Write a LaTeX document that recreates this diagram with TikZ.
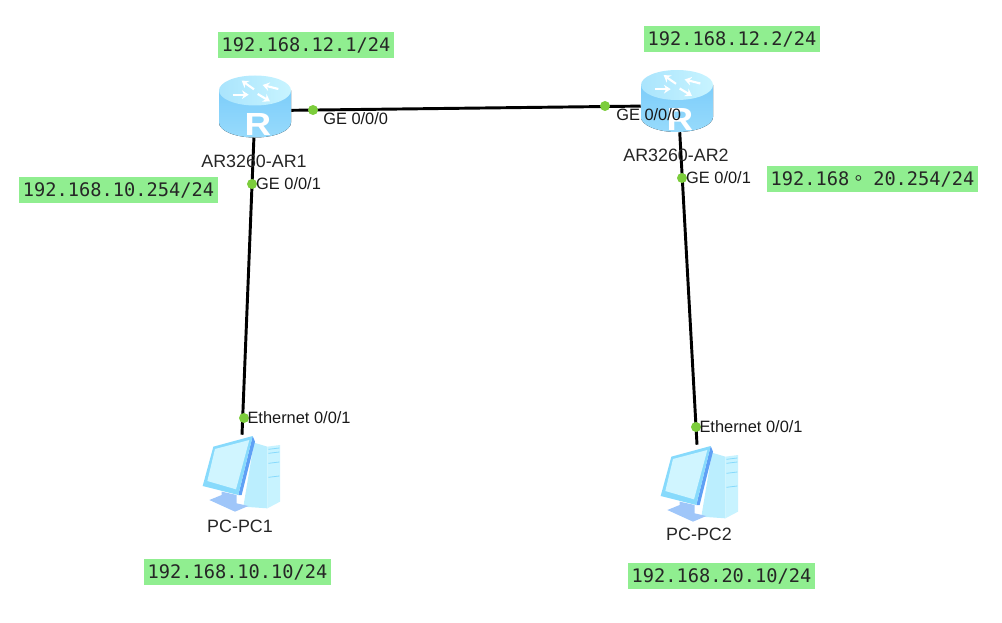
\documentclass[tikz,border=0pt]{standalone}
\usepackage{fontspec}
\setmainfont{Liberation Sans}
\newfontfamily\ipfont{DejaVu Sans Mono}
\newfontfamily\cjkfont{Noto Sans CJK TC}
\usetikzlibrary{arrows.meta,positioning}
\definecolor{IPgreen}{RGB}{144,238,144}
\definecolor{PORTgreen}{RGB}{124,205,60}
\definecolor{RTlight}{RGB}{200,244,255}
\definecolor{RTmid}{RGB}{125,205,250}
\definecolor{PCframe}{RGB}{135,218,252}
\definecolor{PCdark}{RGB}{95,160,245}
\definecolor{PCpale}{RGB}{200,243,255}
\newcommand{\ipdot}{{\cjkfont 。}\hspace{4pt}}
\tikzset{
  ipbox/.style={rectangle, fill=IPgreen, minimum height=19.5pt, inner xsep=3pt, inner ysep=0pt,
                font=\ipfont\fontsize{14}{14}\selectfont, text=black!85},
  port/.style={circle, fill=PORTgreen, inner sep=0pt, minimum size=7.5pt},
  ifname/.style={font=\fontsize{12.3}{13}\selectfont, inner sep=0pt, text=black!90},
  devname/.style={font=\fontsize{13.4}{14}\selectfont, inner sep=0pt, text=black!85},
  devbox/.style={rectangle, inner sep=0pt, minimum width=54pt, minimum height=46.5pt},
  pcbox/.style={rectangle, inner sep=0pt, minimum width=58pt, minimum height=57pt},
  link/.style={line width=2.2pt, black},
  routericon/.pic={
    \fill[top color=RTmid, bottom color=RTmid!65!RTlight]
      (-36,-16) -- (-36,16) arc[start angle=180, end angle=360, x radius=27pt, y radius=11.25pt] -- (36,-16) -- cycle;
    \shade[left color=RTlight!60!RTmid, right color=RTlight] (0,-16) ellipse[x radius=27pt, y radius=11.25pt];
    \begin{scope}[x=.25pt, y=-.25pt, shift={(-195,-259.5)}, white, line width=1.6pt, -{Stealth[length=5pt,width=6.5pt]}]
      \draw (192,208) -- (155,182);
      \draw (265,207) -- (218,195);
      \draw (128,224) -- (176,224);
      \draw (203,222) -- (240,244);
    \end{scope}
    \node[text=white, inner sep=0pt, xscale=1.15, font=\bfseries\fontsize{24}{24}\selectfont] (rglyph) at (3,18) {R};
  },
  pcicon/.pic={
    \begin{scope}[x=.25pt, y=-.25pt, shift={(-183,-219)}]
      % tower
      \fill[PCpale!80!PCframe] (222,128) -- (262,140) -- (262,325) -- (190,320) -- cycle;
      \fill[PCpale] (262,140) -- (300,135) -- (300,305) -- (262,325) -- cycle;
      \draw[PCframe, line width=.6pt] (265,148) -- (298,144) (265,160) -- (298,156) (265,190) -- (298,186) (265,232) -- (298,228);
      % stand
      \fill[PCdark!60!white] (125,275) -- (170,285) -- (170,310) -- (205,318) -- (165,335) -- (88,300) -- (125,285) -- cycle;
      % monitor
      \fill[PCdark] (218,108) -- (225,125) -- (185,285) -- (175,285) -- cycle;
      \fill[PCframe] (100,140) -- (218,108) -- (175,285) -- (68,258) -- cycle;
      \fill[PCpale!85!white] (105,147) -- (208,120) -- (168,268) -- (82,243) -- cycle;
    \end{scope}
  },
}
\begin{document}
\begin{tikzpicture}[x=0.75pt, y=-0.75pt]
  \useasboundingbox (0,0) rectangle (1002,623);

  % routers and hosts
  \pic at (255,106.5) {routericon};
  \node[devbox] (r1) at (255,106.5) {};
  \pic at (677,101) {routericon};
  \node[devbox] (r2) at (677,101) {};
  \pic at (241,473) {pcicon};
  \node[pcbox] (pc1) at (242,473) {};
  \pic at (699,483) {pcicon};
  \node[pcbox] (pc2) at (697,483) {};

  % links
  \draw[link] (r1.-6) -- (r2.188);
  \draw[link] (r1.-92) -- (pc1.north);
  \draw[link] (r2.-85) -- (pc2.north);

  % ports on the links
  \node[port] (p1e) at (313,110) {};
  \node[port] (p2w) at (605,106) {};
  \node[port] (p1s) at (252,184) {};
  \node[port] (p2s) at (682,178) {};
  \node[port] (pc1p) at (244,418) {};
  \node[port] (pc2p) at (696,427) {};

  % interface names
  \node[ifname, anchor=west] (if1e) at (323,119) {GE 0/0/0};
  \node[ifname, anchor=west] (if2w) at (616,115) {GE 0/0/0};
  \node[ifname, right=-1pt of p1s] (if1s) {GE 0/0/1};
  \node[ifname, right=-1pt of p2s] (if2s) {GE 0/0/1};
  \node[ifname, right=-1.5pt of pc1p] (ifpc1) {Ethernet 0/0/1};
  \node[ifname, right=-1.5pt of pc2p] (ifpc2) {Ethernet 0/0/1};

  % device names
  \node[devname] (n1) at (254,161) {AR3260-AR1};
  \node[devname] (n2) at (676,155) {AR3260-AR2};
  \node[devname] (npc1) at (240,526) {PC-PC1};
  \node[devname] (npc2) at (699,534) {PC-PC2};

  % addresses
  \node[ipbox] (ip1) at (306,45) {192.168.12.1/24};
  \node[ipbox] (ip2) at (732,39) {192.168.12.2/24};
  \node[ipbox] (ip3) at (872.5,179) {192.168\ipdot 20.254/24};
  \node[ipbox] (ip4) at (118.5,190) {192.168.10.254/24};
  \node[ipbox] (ip5) at (237.5,572) {192.168.10.10/24};
  \node[ipbox] (ip6) at (721.5,576) {192.168.20.10/24};
\end{tikzpicture}
\end{document}
